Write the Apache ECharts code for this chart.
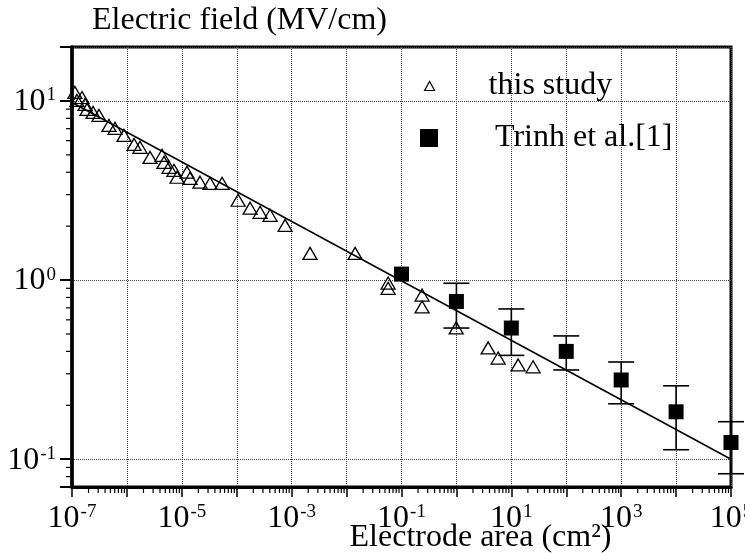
<!DOCTYPE html>
<html>
<head>
<meta charset="utf-8">
<script src="https://cdn.jsdelivr.net/npm/echarts@6/dist/echarts.min.js"></script>
<style>
html,body{margin:0;padding:0;background:#fff;}
#chart{width:745px;height:553px;}
</style>
</head>
<body>
<div id="chart"></div>
<script>
// ---- data ----
const studyArea  = [1.13e-7, 1.52e-7, 1.23e-7, 1.73e-7, 1.88e-7, 2.42e-7, 3.1e-7, 4.72e-7, 6.07e-7, 8.85e-7,
                    1.35e-6, 1.73e-6, 2.64e-6, 4.36e-6, 4.74e-6, 5.85e-6, 7.2e-6, 8.18e-6, 1.24e-5, 1.41e-5,
                    2.14e-5, 3.26e-5, 5.4e-5, 1.06e-4, 1.75e-4, 2.66e-4, 4.04e-4, 7.59e-4, 2.16e-3, 1.43e-2,
                    0.057, 0.057, 0.237, 0.237, 0.99, 3.78, 5.75, 13.3, 24.9];
const studyField = [11.15, 10.45, 10.06, 9.56, 8.97, 8.63, 8.3, 7.3, 7.03, 6.42,
                    5.72, 5.51, 4.84, 4.97, 4.54, 4.26, 4.10, 3.75, 4.0, 3.70,
                    3.52, 3.47, 3.47, 2.79, 2.52, 2.39, 2.30, 2.02, 1.41, 1.41,
                    0.962, 0.90, 0.825, 0.708, 0.541, 0.418, 0.367, 0.336, 0.328];

const trinhArea  = [0.1, 1, 10, 100, 1000, 10000, 100000];
const trinhField = [1.08, 0.76, 0.54, 0.40, 0.277, 0.184, 0.124];
const trinhLow   = [null, 0.54, 0.38, 0.315, 0.204, 0.113, 0.083];
const trinhHigh  = [null, 0.96, 0.69, 0.488, 0.349, 0.257, 0.162];

const fitArea  = [1e-7, 1e5];
const fitField = [9.8, 0.1];

const xMin = 1e-7, xMax = 1e5;
const yMin = 0.07, yMax = 20;
const minorMultipliers = [2, 3, 4, 5, 6, 7, 8, 9];
const xDecades = [-7, -6, -5, -4, -3, -2, -1, 0, 1, 2, 3, 4];
const yDecades = [-2, -1, 0, 1];

// ---- build ----
const FONT = "'Liberation Serif', 'Times New Roman', serif";
const zip = (a, b) => a.map((v, i) => [v, b[i]]);

const xMinor = [];
xDecades.forEach(d => minorMultipliers.forEach(m => {
  const v = m * Math.pow(10, d);
  if (v > xMin && v < xMax) xMinor.push([v, yMin]);
}));
const yMinor = [];
yDecades.forEach(d => minorMultipliers.forEach(m => {
  const v = m * Math.pow(10, d);
  if (v > yMin && v < yMax) yMinor.push([xMin, v]);
}));

const errData = [];
trinhArea.forEach((a, i) => {
  if (trinhLow[i] != null) errData.push([a, trinhLow[i], trinhHigh[i]]);
});

function isPow10(v) {
  const l = Math.log10(v);
  return Math.abs(l - Math.round(l)) < 1e-6;
}

const supRich = {
  b: {fontSize: 32, fontFamily: FONT, color: '#000', lineHeight: 34, verticalAlign: 'bottom'},
  s: {fontSize: 19, fontFamily: FONT, color: '#000', lineHeight: 34, verticalAlign: 'top', padding: [2, 0, 0, 1]}
};

const chart = echarts.init(document.getElementById('chart'), null, {renderer: 'canvas'});

const option = {
  animation: false,
  backgroundColor: '#fff',
  grid: {left: 72, right: 14, top: 47, bottom: 66, containLabel: false, outerBoundsMode: 'none',
         show: true, borderColor: '#000', borderWidth: 3, backgroundColor: 'transparent'},
  legend: [
    {
      data: [{name: 'this study', icon: 'triangle', itemStyle: {color: 'rgba(0,0,0,0)', borderColor: '#000', borderWidth: 1.2}}],
      left: 419, top: 65, orient: 'vertical', itemWidth: 10, itemHeight: 9, selectedMode: false,
      textStyle: {fontSize: 32, fontFamily: FONT, color: '#000', padding: [0, 0, 0, 49]}
    },
    {
      data: [{name: 'Trinh et al.[1]', icon: 'rect', itemStyle: {color: '#000', opacity: 1}}],
      left: 415, top: 117, orient: 'vertical', itemWidth: 18, itemHeight: 18, selectedMode: false,
      textStyle: {fontSize: 32, fontFamily: FONT, color: '#000', padding: [0, 0, 0, 52]}
    }
  ],
  xAxis: {
    type: 'log', logBase: 10, min: xMin, max: xMax, interval: 1, splitNumber: 12,
    name: 'Electrode area (cm²)', nameLocation: 'middle', nameGap: 35, nameMoveOverlap: false,
    nameTextStyle: {fontSize: 32, fontFamily: FONT, color: '#000', padding: [0, 0, 0, 158]},
    axisLine: {show: true, lineStyle: {color: '#000', width: 3}},
    axisTick: {show: true, inside: false, length: 10, lineStyle: {color: '#000', width: 1.5}},
    axisLabel: {
      margin: 14, color: '#000',
      formatter: v => {
        if (!isPow10(v)) return '';
        const e = Math.round(Math.log10(v));
        if (e % 2 === 0) return '';
        return '{b|10}{s|' + e + '}';
      },
      rich: supRich
    },
    splitLine: {show: true, lineStyle: {color: '#444', type: 'dotted', width: 1}}
  },
  yAxis: {
    type: 'log', logBase: 10, min: yMin, max: yMax, splitNumber: 3,
    name: 'Electric field (MV/cm)', nameLocation: 'end', nameGap: 10,
    nameTextStyle: {fontSize: 32, fontFamily: FONT, color: '#000', align: 'left', padding: [0, 0, 0, 20]},
    axisLine: {show: true, lineStyle: {color: '#000', width: 3.5}},
    axisTick: {show: true, inside: false, length: 12, lineStyle: {color: '#000', width: 2}},
    axisLabel: {
      margin: 16, color: '#000',
      formatter: v => {
        if (!isPow10(v)) return '';
        const e = Math.round(Math.log10(v));
        return '{b|10}{s|' + e + '}';
      },
      rich: supRich
    },
    splitLine: {show: true, lineStyle: {color: '#444', type: 'dotted', width: 1}}
  },
  series: [
    {
      name: 'minorX', type: 'custom', clip: false, silent: true, z: 5,
      data: xMinor,
      renderItem: (params, api) => {
        const p = api.coord([api.value(0), api.value(1)]);
        return {type: 'line', shape: {x1: p[0], y1: p[1], x2: p[0], y2: p[1] + 6}, style: {stroke: '#000', lineWidth: 1.2}};
      }
    },
    {
      name: 'minorY', type: 'custom', clip: false, silent: true, z: 5,
      data: yMinor,
      renderItem: (params, api) => {
        const p = api.coord([api.value(0), api.value(1)]);
        return {type: 'line', shape: {x1: p[0] - 6, y1: p[1], x2: p[0], y2: p[1]}, style: {stroke: '#000', lineWidth: 1.2}};
      }
    },
    {
      name: 'fit', type: 'line', data: zip(fitArea, fitField), symbol: 'none', z: 3,
      lineStyle: {color: '#000', width: 1.5}, silent: true
    },
    {
      name: 'errors', type: 'custom', clip: false, silent: true, z: 4,
      data: errData,
      renderItem: (params, api) => {
        const lo = api.coord([api.value(0), api.value(1)]);
        const hi = api.coord([api.value(0), api.value(2)]);
        const w = 13;
        return {
          type: 'group',
          children: [
            {type: 'line', shape: {x1: lo[0], y1: lo[1], x2: hi[0], y2: hi[1]}, style: {stroke: '#000', lineWidth: 1.6}},
            {type: 'line', shape: {x1: lo[0] - w, y1: lo[1], x2: lo[0] + w, y2: lo[1]}, style: {stroke: '#000', lineWidth: 1.6}},
            {type: 'line', shape: {x1: hi[0] - w, y1: hi[1], x2: hi[0] + w, y2: hi[1]}, style: {stroke: '#000', lineWidth: 1.6}}
          ]
        };
      }
    },
    {
      name: 'this study', type: 'scatter', data: zip(studyArea, studyField), z: 6,
      symbol: 'triangle', symbolSize: [14, 12],
      itemStyle: {color: 'rgba(0,0,0,0)', borderColor: '#000', borderWidth: 1.3, opacity: 1}
    },
    {
      name: 'Trinh et al.[1]', type: 'scatter', data: zip(trinhArea, trinhField), z: 7,
      symbol: 'rect', symbolSize: 15,
      itemStyle: {color: '#000', opacity: 1}
    }
  ]
};
chart.setOption(option);
</script>
</body>
</html>
